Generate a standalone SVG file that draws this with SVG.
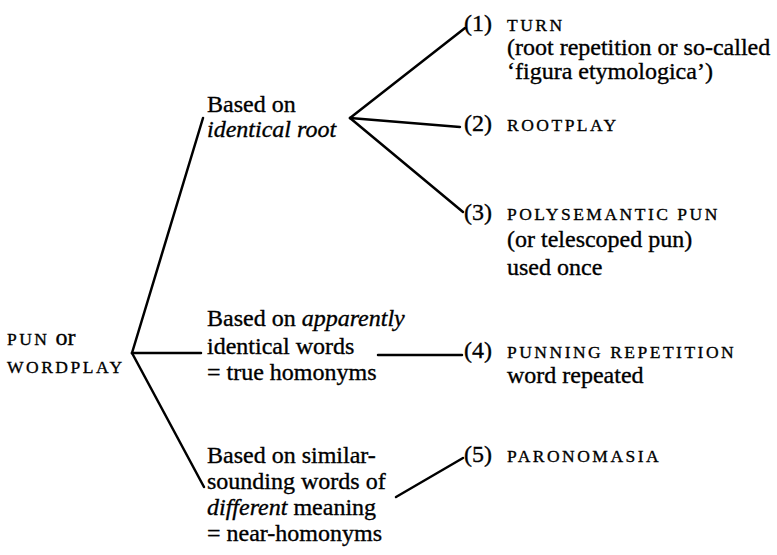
<svg xmlns="http://www.w3.org/2000/svg" width="777" height="555" viewBox="0 0 777 555" font-family="'Liberation Serif', 'Times New Roman', 'DejaVu Serif', serif">
<style>
text{font-family:"Liberation Serif","Times New Roman","DejaVu Serif",serif;font-size:24px;fill:#000;stroke:#000;stroke-width:0.35px}
.sc{font-size:17.5px;letter-spacing:2.5px}
.it{font-style:italic}
.conn line{stroke:#000;stroke-width:2.5;stroke-linecap:round}
</style>
<rect width="777" height="555" fill="#fff"/>
<g id="connectors" class="conn">
<line x1="132" y1="353" x2="203" y2="118"/>
<line x1="132" y1="353" x2="201" y2="353"/>
<line x1="132" y1="353" x2="204" y2="487"/>
<line x1="350" y1="118" x2="465" y2="28"/>
<line x1="350" y1="118" x2="460" y2="127"/>
<line x1="350" y1="118" x2="463" y2="212"/>
<line x1="378" y1="355" x2="462" y2="355"/>
<line x1="396" y1="497" x2="463" y2="458"/>
</g>
<g id="root">
<text x="7" y="345"><tspan class="sc">PUN</tspan> or</text>
<text x="7" y="373" class="sc">WORDPLAY</text>
</g>
<g id="identical-root">
<text x="207" y="112">Based on</text>
<text x="207" y="137" class="it">identical root</text>
</g>
<g id="identical-words">
<text x="207" y="326">Based on <tspan class="it">apparently</tspan></text>
<text x="207" y="354">identical words</text>
<text x="207" y="380">= true homonyms</text>
</g>
<g id="similar-sounding">
<text x="207" y="463">Based on similar-</text>
<text x="207" y="489">sounding words of</text>
<text x="207" y="515"><tspan class="it">different</tspan> meaning</text>
<text x="207" y="541">= near-homonyms</text>
</g>
<g id="turn">
<text x="464" y="31">(1)</text>
<text x="507" y="31" class="sc">TURN</text>
<text x="507" y="55">(root repetition or so-called</text>
<text x="507" y="79">‘figura etymologica’)</text>
</g>
<g id="rootplay">
<text x="464" y="131">(2)</text>
<text x="507" y="131" class="sc">ROOTPLAY</text>
</g>
<g id="polysemantic">
<text x="464" y="220">(3)</text>
<text x="507" y="220" class="sc">POLYSEMANTIC PUN</text>
<text x="507" y="247">(or telescoped pun)</text>
<text x="507" y="275">used once</text>
</g>
<g id="punning-repetition">
<text x="464" y="358">(4)</text>
<text x="507" y="358" class="sc">PUNNING REPETITION</text>
<text x="507" y="383">word repeated</text>
</g>
<g id="paronomasia">
<text x="464" y="462">(5)</text>
<text x="507" y="462" class="sc">PARONOMASIA</text>
</g>
</svg>
